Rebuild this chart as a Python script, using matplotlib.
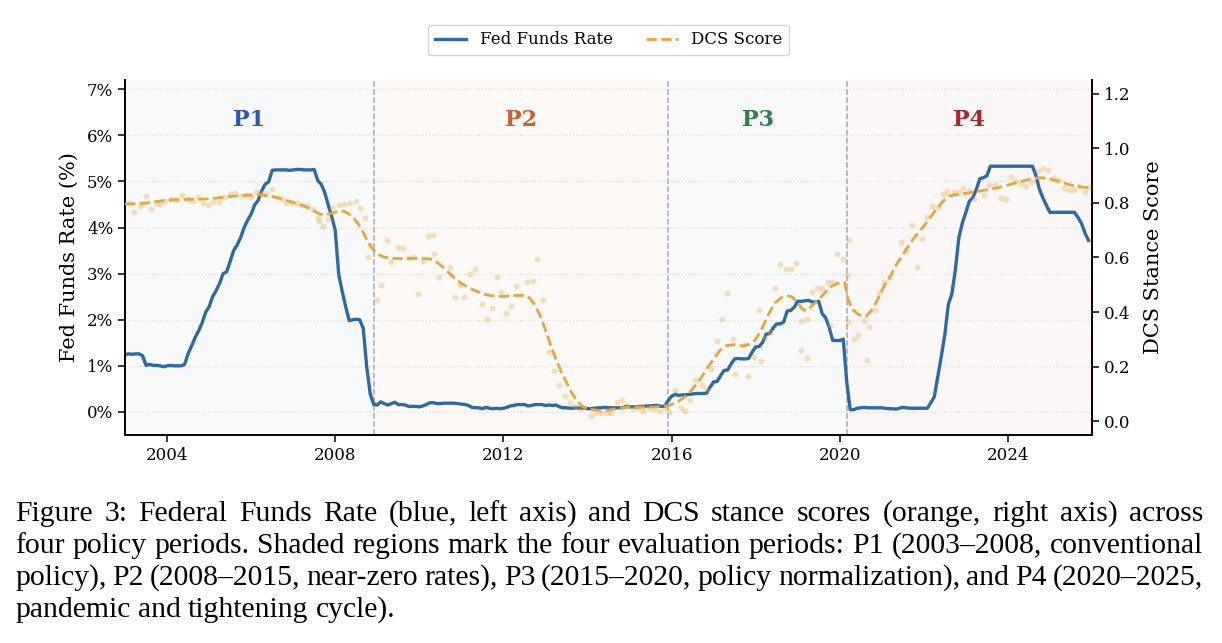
import numpy as np
import matplotlib
matplotlib.use("Agg")
import matplotlib.pyplot as plt

# effective fed funds rate, monthly Jan 2003 .. Dec 2025 (%)
fed_rate = [
    1.24, 1.26, 1.25, 1.26, 1.26, 1.22, 1.01, 1.03, 1.01, 1.01, 1.00, 0.98,  # 2003
    1.00, 1.01, 1.00, 1.00, 1.00, 1.03, 1.26, 1.43, 1.61, 1.76, 1.93, 2.16,  # 2004
    2.28, 2.50, 2.63, 2.79, 3.00, 3.04, 3.26, 3.50, 3.62, 3.78, 4.00, 4.16,  # 2005
    4.29, 4.49, 4.59, 4.79, 4.94, 4.99, 5.24, 5.25, 5.25, 5.25, 5.25, 5.24,  # 2006
    5.25, 5.26, 5.26, 5.25, 5.25, 5.25, 5.26, 5.02, 4.94, 4.76, 4.49, 4.24,  # 2007
    3.94, 2.98, 2.61, 2.28, 1.98, 2.00, 2.01, 2.00, 1.81, 0.97, 0.39, 0.16,  # 2008
    0.15, 0.22, 0.18, 0.15, 0.18, 0.21, 0.16, 0.16, 0.15, 0.12, 0.12, 0.12,  # 2009
    0.11, 0.13, 0.16, 0.20, 0.20, 0.18, 0.18, 0.19, 0.19, 0.19, 0.19, 0.18,  # 2010
    0.17, 0.16, 0.14, 0.10, 0.09, 0.09, 0.07, 0.10, 0.08, 0.07, 0.08, 0.07,  # 2011
    0.08, 0.10, 0.13, 0.14, 0.16, 0.16, 0.16, 0.13, 0.14, 0.16, 0.16, 0.16,  # 2012
    0.14, 0.15, 0.14, 0.15, 0.11, 0.09, 0.09, 0.08, 0.08, 0.09, 0.08, 0.09,  # 2013
    0.07, 0.07, 0.08, 0.09, 0.09, 0.10, 0.09, 0.09, 0.09, 0.09, 0.09, 0.12,  # 2014
    0.11, 0.11, 0.11, 0.12, 0.12, 0.13, 0.13, 0.14, 0.14, 0.12, 0.12, 0.24,  # 2015
    0.34, 0.38, 0.36, 0.37, 0.37, 0.38, 0.39, 0.40, 0.40, 0.40, 0.41, 0.54,  # 2016
    0.65, 0.66, 0.79, 0.90, 0.91, 1.04, 1.15, 1.16, 1.15, 1.15, 1.16, 1.30,  # 2017
    1.41, 1.42, 1.51, 1.69, 1.70, 1.82, 1.91, 1.91, 1.95, 2.19, 2.20, 2.27,  # 2018
    2.40, 2.40, 2.41, 2.42, 2.39, 2.38, 2.40, 2.13, 2.04, 1.83, 1.55, 1.55,  # 2019
    1.55, 1.58, 0.65, 0.05, 0.05, 0.08, 0.09, 0.10, 0.09, 0.09, 0.09, 0.09,  # 2020
    0.09, 0.08, 0.07, 0.07, 0.06, 0.08, 0.10, 0.09, 0.08, 0.08, 0.08, 0.08,  # 2021
    0.08, 0.08, 0.20, 0.33, 0.77, 1.21, 1.68, 2.33, 2.56, 3.08, 3.78, 4.10,  # 2022
    4.33, 4.57, 4.65, 4.83, 5.06, 5.08, 5.12, 5.33, 5.33, 5.33, 5.33, 5.33,  # 2023
    5.33, 5.33, 5.33, 5.33, 5.33, 5.33, 5.33, 5.33, 5.13, 4.83, 4.64, 4.48,  # 2024
    4.33, 4.33, 4.33, 4.33, 4.33, 4.33, 4.33, 4.33, 4.22, 4.09, 3.88, 3.72,  # 2025
]

# DCS stance score per FOMC meeting (decimal year, score)
dcs_t = [
    2003.09, 2003.22, 2003.36, 2003.49, 2003.63, 2003.74, 2003.84, 2003.96,
    2004.09, 2004.21, 2004.36, 2004.50, 2004.62, 2004.74, 2004.86, 2004.97,
    2005.09, 2005.23, 2005.36, 2005.50, 2005.62, 2005.75, 2005.88, 2006.00,
    2006.12, 2006.22, 2006.35, 2006.49, 2006.61, 2006.73, 2006.83, 2006.97,
    2007.09, 2007.22, 2007.36, 2007.48, 2007.60, 2007.62, 2007.72, 2007.84,
    2007.93, 2008.08, 2008.20, 2008.34, 2008.49, 2008.59, 2008.71, 2008.77,
    2008.83, 2008.99, 2009.08, 2009.22, 2009.33, 2009.49, 2009.62, 2009.74,
    2009.86, 2009.96, 2010.08, 2010.21, 2010.33, 2010.36, 2010.48, 2010.73,
    2010.85, 2010.97, 2011.07, 2011.20, 2011.32, 2011.48, 2011.62, 2011.72,
    2011.84, 2011.94, 2012.07, 2012.19, 2012.31, 2012.57, 2012.71, 2012.81,
    2012.95, 2013.08, 2013.21, 2013.33, 2013.46, 2013.59, 2013.71, 2013.84,
    2014.08, 2014.21, 2014.33, 2014.47, 2014.57, 2014.71, 2014.82, 2014.95,
    2015.08, 2015.20, 2015.32, 2015.45, 2015.58, 2015.72, 2015.84, 2015.95,
    2016.07, 2016.22, 2016.33, 2016.45, 2016.56, 2016.72, 2016.82, 2016.94,
    2017.09, 2017.20, 2017.32, 2017.46, 2017.50, 2017.72, 2017.83, 2017.96,
    2018.08, 2018.12, 2018.23, 2018.33, 2018.45, 2018.58, 2018.72, 2018.84,
    2018.96, 2019.07, 2019.08, 2019.22, 2019.23, 2019.33, 2019.46, 2019.58,
    2019.71, 2019.78, 2019.83, 2019.94, 2020.07, 2020.18, 2020.19, 2020.21,
    2020.33, 2020.44, 2020.57, 2020.65, 2020.70, 2020.84, 2020.94, 2021.06,
    2021.20, 2021.46, 2021.57, 2021.72, 2021.84, 2021.95, 2022.07, 2022.19,
    2022.33, 2022.45, 2022.56, 2022.71, 2022.84, 2022.94, 2023.08, 2023.20,
    2023.44, 2023.55, 2023.70, 2023.83, 2023.95, 2024.07, 2024.20, 2024.32,
    2024.44, 2024.58, 2024.72, 2024.84, 2024.96, 2025.08, 2025.20, 2025.34,
    2025.45, 2025.57, 2025.69, 2025.83, 2025.95,
]
dcs_score = [
    0.800, 0.766, 0.789, 0.825, 0.777, 0.798, 0.796, 0.808,
    0.815, 0.810, 0.828, 0.816, 0.808, 0.820, 0.800, 0.794,
    0.804, 0.804, 0.822, 0.832, 0.837, 0.826, 0.830, 0.822,
    0.838, 0.837, 0.837, 0.849, 0.822, 0.813, 0.800, 0.798,
    0.800, 0.794, 0.788, 0.776, 0.743, 0.735, 0.716, 0.740,
    0.783, 0.792, 0.795, 0.800, 0.808, 0.783, 0.743, 0.600,
    0.646, 0.445, 0.500, 0.664, 0.585, 0.640, 0.636, 0.597,
    0.603, 0.467, 0.587, 0.679, 0.682, 0.613, 0.528, 0.564,
    0.457, 0.500, 0.457, 0.539, 0.558, 0.429, 0.376, 0.415,
    0.527, 0.472, 0.396, 0.421, 0.494, 0.510, 0.514, 0.595,
    0.443, 0.254, 0.183, 0.132, 0.092, 0.068, 0.056, 0.047,
    0.021, 0.029, 0.029, 0.029, 0.029, 0.072, 0.078, 0.058,
    0.044, 0.050, 0.037, 0.050, 0.044, 0.037, 0.050, 0.034,
    0.114, 0.050, 0.037, 0.078, 0.153, 0.132, 0.117, 0.190,
    0.293, 0.374, 0.469, 0.303, 0.175, 0.281, 0.165, 0.236,
    0.409, 0.220, 0.305, 0.326, 0.488, 0.575, 0.557, 0.558,
    0.581, 0.366, 0.262, 0.374, 0.232, 0.475, 0.490, 0.490,
    0.510, 0.354, 0.510, 0.612, 0.594, 0.536, 0.362, 0.664,
    0.303, 0.315, 0.368, 0.226, 0.344, 0.409, 0.469, 0.510,
    0.527, 0.656, 0.622, 0.719, 0.567, 0.668, 0.749, 0.789,
    0.786, 0.832, 0.844, 0.838, 0.838, 0.855, 0.845, 0.814,
    0.828, 0.865, 0.867, 0.819, 0.813, 0.893, 0.881, 0.870,
    0.861, 0.875, 0.917, 0.928, 0.920, 0.890, 0.883, 0.856,
    0.847, 0.847, 0.861, 0.840, 0.859,
]

# smoothed DCS score (dashed line)
smooth_t = [
    2003.00, 2003.25, 2003.50, 2003.75, 2004.00, 2004.25, 2004.50, 2004.75,
    2005.00, 2005.25, 2005.50, 2005.75, 2006.00, 2006.25, 2006.50, 2006.75,
    2007.00, 2007.25, 2007.50, 2007.65, 2007.85, 2008.05, 2008.20, 2008.35,
    2008.50, 2008.62, 2008.75, 2008.87, 2009.00, 2009.15, 2009.30, 2009.60,
    2010.00, 2010.25, 2010.40, 2010.60, 2010.80, 2011.00, 2011.25, 2011.50,
    2011.75, 2012.00, 2012.25, 2012.50, 2012.62, 2012.75, 2012.88, 2013.00,
    2013.12, 2013.25, 2013.38, 2013.50, 2013.62, 2013.75, 2013.88, 2014.00,
    2014.25, 2014.50, 2014.75, 2015.00, 2015.25, 2015.50, 2015.75, 2015.93,
    2016.10, 2016.25, 2016.40, 2016.55, 2016.70, 2016.85, 2017.00, 2017.15,
    2017.30, 2017.50, 2017.70, 2017.85, 2018.00, 2018.15, 2018.30, 2018.45,
    2018.60, 2018.75, 2018.88, 2019.00, 2019.12, 2019.22, 2019.35, 2019.50,
    2019.65, 2019.80, 2019.95, 2020.12, 2020.19, 2020.30, 2020.45, 2020.62,
    2020.75, 2020.90, 2021.05, 2021.20, 2021.35, 2021.55, 2021.75, 2022.00,
    2022.25, 2022.45, 2022.60, 2022.75, 2023.00, 2023.25, 2023.50, 2023.75,
    2024.00, 2024.25, 2024.50, 2024.75, 2024.95, 2025.20, 2025.50, 2025.75,
    2025.95,
]
smooth_score = [
    0.796, 0.797, 0.799, 0.805, 0.810, 0.812, 0.813, 0.813,
    0.815, 0.819, 0.823, 0.827, 0.829, 0.829, 0.824, 0.813,
    0.802, 0.789, 0.770, 0.758, 0.759, 0.768, 0.770, 0.757,
    0.733, 0.705, 0.665, 0.635, 0.613, 0.602, 0.597, 0.596,
    0.597, 0.595, 0.585, 0.560, 0.530, 0.505, 0.484, 0.467,
    0.459, 0.457, 0.461, 0.461, 0.452, 0.427, 0.385, 0.335,
    0.280, 0.228, 0.180, 0.143, 0.105, 0.076, 0.055, 0.046,
    0.040, 0.041, 0.048, 0.053, 0.052, 0.052, 0.054, 0.058,
    0.068, 0.082, 0.100, 0.128, 0.158, 0.195, 0.228, 0.260,
    0.277, 0.281, 0.276, 0.282, 0.300, 0.340, 0.390, 0.432,
    0.452, 0.460, 0.455, 0.433, 0.410, 0.405, 0.425, 0.445,
    0.472, 0.494, 0.505, 0.508, 0.450, 0.410, 0.391, 0.384,
    0.405, 0.445, 0.494, 0.530, 0.575, 0.622, 0.668, 0.715,
    0.767, 0.805, 0.825, 0.830, 0.835, 0.841, 0.848, 0.855,
    0.865, 0.876, 0.886, 0.892, 0.890, 0.879, 0.865, 0.858,
    0.855,
]

period_names = ["P1", "P2", "P3", "P4"]
period_edges = [2003.0, 2008.92, 2015.92, 2020.17, 2026.0]
period_colors = ["#2b5ba8", "#c8602a", "#2e7d4b", "#a8262e"]

caption_lines = [
    "Figure 3: Federal Funds Rate (blue, left axis) and DCS stance scores (orange, right axis) across",
    "four policy periods. Shaded regions mark the four evaluation periods: P1 (2003\u20132008, conventional",
    "policy), P2 (2008\u20132015, near-zero rates), P3 (2015\u20132020, policy normalization), and P4 (2020\u20132025,",
    "pandemic and tightening cycle).",
]

plt.rcParams["font.family"] = "DejaVu Serif"
blue = "#2c6aa6"
orange = "#e9a43a"

fig = plt.figure(figsize=(12.22, 6.43), dpi=100)
ax = fig.add_axes([0.1023, 0.3235, 0.7913, 0.5521])
ax2 = ax.twinx()

fed_t = 2003 + np.arange(len(fed_rate)) / 12.0

for i, name in enumerate(period_names):
    a, b = period_edges[i], period_edges[i + 1]
    ax.axvspan(a, b, color=period_colors[i], alpha=0.035, lw=0, zorder=0)
    ax.text((a + b) / 2, 0.887, name, transform=ax.get_xaxis_transform(),
            ha="center", va="center", fontsize=16, fontweight="bold",
            color=period_colors[i])
for e in period_edges[1:-1]:
    ax.axvline(e, color="#aaaaaa", ls="--", lw=1.1, zorder=1)

ax.grid(axis="y", ls=":", color="#dddddd", lw=0.8)
ax.set_axisbelow(True)
l1, = ax.plot(fed_t, fed_rate, color=blue, lw=2.4, label="Fed Funds Rate", zorder=3)

ax2.scatter(dcs_t, dcs_score, s=18, color=orange, alpha=0.33, lw=0, zorder=2)
l2, = ax2.plot(smooth_t, smooth_score, color=orange, lw=2.0, ls="--", label="DCS Score", zorder=3)

ax.set_xlim(2003.0, 2026.0)
ax.set_ylim(-0.5, 7.2)
ax2.set_ylim(-0.05, 1.25)
ax.set_xticks([2004, 2008, 2012, 2016, 2020, 2024])
ax.set_xticklabels(["2004", "2008", "2012", "2016", "2020", "2024"])
ax.set_yticks(range(0, 8))
ax.set_yticklabels([f"{v}%" for v in range(0, 8)])
ax2.set_yticks([0.0, 0.2, 0.4, 0.6, 0.8, 1.0, 1.2])
ax2.set_yticklabels(["0.0", "0.2", "0.4", "0.6", "0.8", "1.0", "1.2"])

for a_ in (ax, ax2):
    a_.spines["top"].set_visible(False)
    for s in a_.spines.values():
        s.set_linewidth(1.2)
    a_.tick_params(labelsize=12, length=5, width=1.1, direction="out")
ax.set_ylabel("Fed Funds Rate (%)", fontsize=15, labelpad=6)
ax2.set_ylabel("DCS Stance Score", fontsize=15, labelpad=10)

leg = fig.legend([l1, l2], ["Fed Funds Rate", "DCS Score"], loc="center",
                 bbox_to_anchor=(0.498, 0.938), ncol=2, fontsize=12,
                 frameon=True, edgecolor="#cccccc", columnspacing=2.0,
                 handlelength=1.9)

# caption, justified like the LaTeX original
renderer = fig.canvas.get_renderer()
cap_font = dict(family="Liberation Serif", fontsize=21.3)
x_left, x_right = 15, 1203
W, H = fig.bbox.width, fig.bbox.height
baselines = [521, 553, 585, 617]
probe = fig.text(0, 0, "a a", **cap_font)
probe2 = fig.text(0, 0, "aa", **cap_font)
space_w = probe.get_window_extent(renderer).width - probe2.get_window_extent(renderer).width
probe.remove()
probe2.remove()
for i, line in enumerate(caption_lines):
    words = line.split(" ")
    texts = [fig.text(0, 0, w, va="baseline", **cap_font) for w in words]
    widths = [t.get_window_extent(renderer).width for t in texts]
    if i < len(caption_lines) - 1:
        gap = (x_right - x_left - sum(widths)) / (len(words) - 1)
    else:
        gap = space_w
    x = x_left
    for t, w in zip(texts, widths):
        t.set_position((x / W, 1 - baselines[i] / H))
        x += w + gap

fig.savefig("out.png", dpi=100)
